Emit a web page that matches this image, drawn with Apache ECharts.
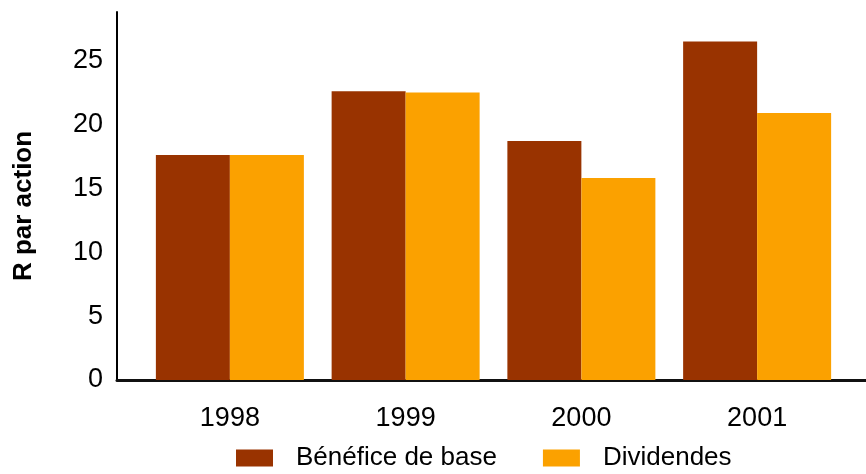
<!DOCTYPE html>
<html>
<head>
<meta charset="utf-8">
<script src="https://cdn.jsdelivr.net/npm/echarts@6/dist/echarts.min.js"></script>
<style>
  html, body { margin: 0; padding: 0; background: #ffffff; }
  #chart { width: 866px; height: 474px; }
</style>
</head>
<body>
<div id="chart"></div>
<script>
// Earnings and dividends per share, in rand
const years = ['1998', '1999', '2000', '2001'];
const benefice = [17.6, 22.6, 18.7, 26.5];
const dividendes = [17.6, 22.5, 15.8, 20.9];
const yTicks = [0, 5, 10, 15, 20, 25];

const FONT = '"Liberation Sans", Arial, sans-serif';
const Y_MAX = 28.8;

const chart = echarts.init(document.getElementById('chart'), null, { renderer: 'canvas' });

chart.setOption({
  animation: false,
  backgroundColor: '#ffffff',
  textStyle: { fontFamily: FONT, color: '#000' },
  grid: [
    // bars
    { left: 142, right: 21, top: 12, bottom: 94, containLabel: false },
    // frame: y axis and baseline
    { left: 117, right: 0, top: 12, bottom: 94, containLabel: false }
  ],
  legend: {
    left: 236,
    top: 445,
    padding: 0,
    icon: 'rect',
    itemWidth: 37,
    itemHeight: 17,
    itemGap: 46,
    textStyle: {
      fontFamily: FONT,
      fontSize: 26,
      color: '#000',
      padding: [0, 0, 0, 18]
    },
    data: ['Bénéfice de base', 'Dividendes']
  },
  xAxis: [
    {
      type: 'category',
      gridIndex: 0,
      data: years,
      axisLine: { show: false },
      axisTick: { show: false },
      axisLabel: { fontFamily: FONT, fontSize: 27, color: '#000', margin: 25 }
    },
    {
      type: 'category',
      gridIndex: 1,
      data: years,
      axisLine: { show: true, lineStyle: { color: '#111', width: 3 } },
      axisTick: { show: false },
      axisLabel: { show: false }
    }
  ],
  yAxis: [
    {
      type: 'value',
      gridIndex: 0,
      min: 0,
      max: Y_MAX,
      interval: 5,
      show: false,
      splitLine: { show: false }
    },
    {
      type: 'value',
      gridIndex: 1,
      min: 0,
      max: Y_MAX,
      interval: 5,
      axisLine: { show: true, lineStyle: { color: '#000', width: 2 } },
      axisTick: { show: false },
      splitLine: { show: false },
      axisLabel: {
        fontFamily: FONT,
        fontSize: 27,
        color: '#000',
        margin: 14,
        showMaxLabel: false,
        formatter: function (v) { return yTicks.indexOf(v) >= 0 ? String(v) : ''; }
      },
      name: 'R par action',
      nameLocation: 'middle',
      nameRotate: 90,
      nameGap: 80,
      nameTextStyle: {
        fontFamily: FONT,
        fontSize: 26,
        fontWeight: 'bold',
        color: '#000',
        padding: [0, 20, 0, 0]
      }
    }
  ],
  series: [
    {
      name: 'Bénéfice de base',
      type: 'bar',
      xAxisIndex: 0,
      yAxisIndex: 0,
      data: benefice,
      barWidth: 74,
      barGap: '0%',
      itemStyle: { color: '#993300' }
    },
    {
      name: 'Dividendes',
      type: 'bar',
      xAxisIndex: 0,
      yAxisIndex: 0,
      data: dividendes,
      barWidth: 74,
      barGap: '0%',
      itemStyle: { color: '#FBA100' }
    }
  ]
});
</script>
</body>
</html>
